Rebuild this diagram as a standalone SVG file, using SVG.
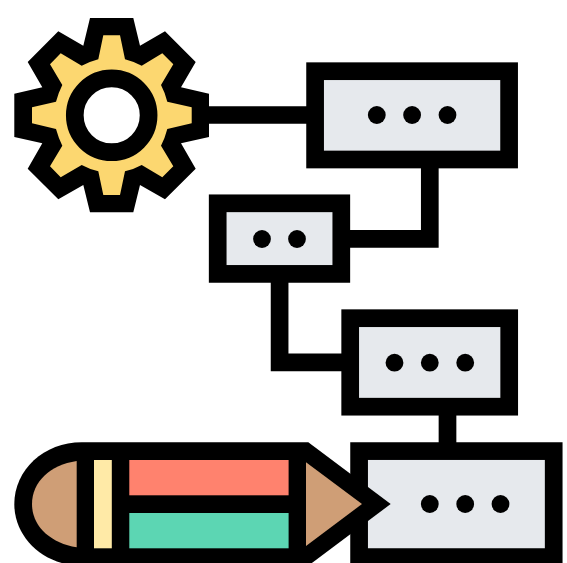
<svg xmlns="http://www.w3.org/2000/svg" width="567" height="563" viewBox="0 0 567 563">
<style>
.box{fill:#e6e9ed;stroke:#000;stroke-width:17.7;stroke-miterlimit:10}
.link{fill:none;stroke:#000;stroke-width:17.7;stroke-miterlimit:10}
.dot{fill:#000}
</style>
<rect width="567" height="563" fill="#fff"/>
<g id="connectors">
<path class="link" d="M200 115H315"/>
<path class="link" d="M429.8 160V238.9H340"/>
<path class="link" d="M279.6 275V362.3H350"/>
<path class="link" d="M447.5 407V451"/>
</g>
<g id="gear">
<polygon fill="#000" points="90,18 133.3,18 140,45.7 165,31.3 195.7,62 181,87.3 209,93.7 209,137 181,143.3 195.7,168.7 165,199.3 140,185 133.3,212.3 90,212.3 83.3,185 58.3,199.3 27.7,168.7 42.3,143.3 14.3,137 14.3,93.7 42.3,87.3 27.7,62 58.3,31.3 83.3,45.7"/>
<path fill="#fcd770" d="M103.3 35.3H120L125 59.3Q133.5 61.5 141.7 65.7L162.3 53.3L173.3 64.3L161 85Q165 92.5 167.3 101.7L191.7 107.3V123.3L167.3 129Q165 138 161 145.7L173.3 166.3L162.3 177.3L141.7 165Q133.5 169.5 125 171.3L120 195H103.3L98.3 171.3Q90 169.5 81.7 165L60.7 177.3L50 166.3L62.3 145.7Q58.5 138 56 129L32 123.3V107.3L56 101.7Q58.5 92.5 62.3 85L50 64.3L60.7 53.3L81.7 65.7Q90 61.5 98.3 59.3Z"/>
<circle cx="111.7" cy="115.3" r="36.9" fill="#fff" stroke="#000" stroke-width="17.7"/>
</g>
<g id="box-1">
<rect class="box" x="315.1" y="71.2" width="194" height="88.3"/>
<circle class="dot" cx="376.8" cy="115" r="8.9"/><circle class="dot" cx="412.1" cy="115" r="8.9"/><circle class="dot" cx="447.5" cy="115" r="8.9"/>
</g>
<g id="box-2">
<rect class="box" x="217.7" y="203.3" width="123.6" height="70.6"/>
<circle class="dot" cx="262" cy="239" r="8.9"/><circle class="dot" cx="297" cy="239" r="8.9"/>
</g>
<g id="box-3">
<rect class="box" x="350.2" y="318.2" width="159" height="88.5"/>
<circle class="dot" cx="394.5" cy="362.7" r="8.9"/><circle class="dot" cx="429.8" cy="362.7" r="8.9"/><circle class="dot" cx="465.2" cy="362.7" r="8.9"/>
</g>
<g id="box-4">
<rect class="box" x="359.1" y="451.1" width="194.6" height="106"/>
<circle class="dot" cx="429.8" cy="504" r="8.9"/><circle class="dot" cx="465.2" cy="504" r="8.9"/><circle class="dot" cx="500.5" cy="504" r="8.9"/>
</g>
<g id="pencil">
<path fill="#000" d="M81.7 442.3H308.3L390.7 504L308.3 565.7H81.7C44 565.7 14.3 538 14.3 504C14.3 470 44 442.3 81.7 442.3Z"/>
<path fill="#cf9e76" d="M76.7 461C50 465 32 482 32 504C32 526 50 543 76.7 547.3Z"/>
<rect x="94" y="460" width="17.8" height="88.3" fill="#ffeaa7"/>
<rect x="129.3" y="460" width="159.3" height="35.3" fill="#ff826e"/>
<rect x="129.3" y="513" width="159.3" height="35.3" fill="#5cd6b3"/>
<polygon fill="#cf9e76" points="306,462.3 362,504 306,546"/>
</g>
</svg>
